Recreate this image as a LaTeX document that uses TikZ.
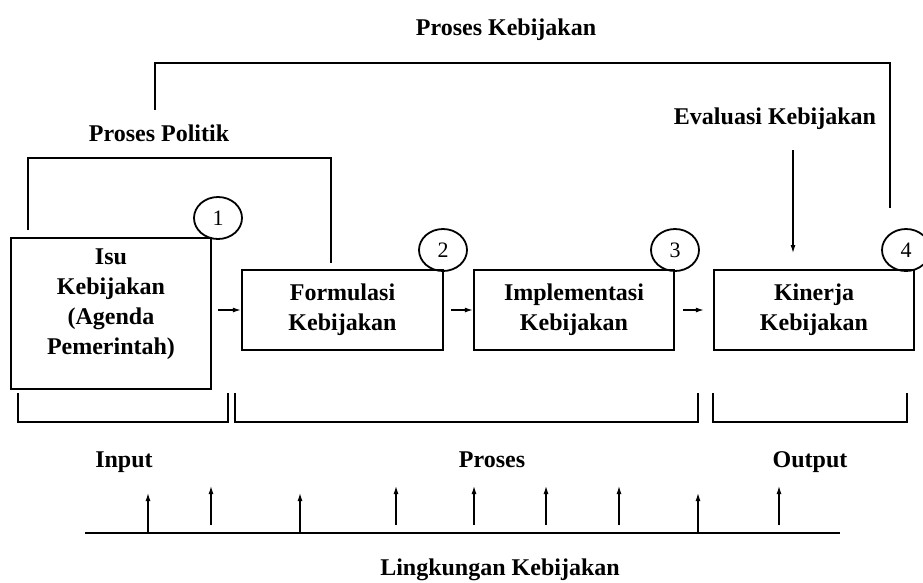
\documentclass[tikz,border=0pt]{standalone}
\usepackage{fontspec}
\setmainfont{Liberation Serif}
\usetikzlibrary{arrows.meta,shapes.geometric}
\tikzset{
  stagebox/.style={draw, line width=2.4pt, rectangle, inner sep=0pt},
  lbl/.style={font=\fontsize{24}{30}\selectfont\bfseries, align=center, inner sep=0pt},
  num/.style={draw, ellipse, line width=1.8pt, minimum width=48pt, minimum height=42pt, inner sep=0pt, font=\fontsize{22}{24}\selectfont},
  brk/.style={line width=1.8pt},
  arr/.style={line width=1.2pt, -{Latex[length=8pt,width=5pt]}},
}
\begin{document}
\begin{tikzpicture}[x=1pt,y=-1pt]
\useasboundingbox[fill=white] (0,0) rectangle (923,582);

% boxes
\node[stagebox, minimum width=200pt, minimum height=151pt] (b1) at (111,313.5) {};
\node[lbl] (t1) at (111,304) {Isu\\Kebijakan\\(Agenda\\Pemerintah)};
\node[stagebox, minimum width=201pt, minimum height=80pt, lbl] (b2) at (342.5,310) {Formulasi\\Kebijakan};
\node[stagebox, minimum width=200pt, minimum height=80pt, lbl] (b3) at (574,310) {Implementasi\\Kebijakan};
\node[stagebox, minimum width=200pt, minimum height=80pt, lbl] (b4) at (814,310) {Kinerja\\Kebijakan};

% numbered circles
\node[num] (n1) at (218,218) {1};
\node[num] (n2) at (443,250) {2};
\node[num] (n3) at (675,250) {3};
\node[num] (n4) at (906,250) {4};

% arrows between boxes
\coordinate (a1) at (218,310);
\coordinate (a2) at (451,310);
\coordinate (a3) at (683,310);
\draw[arr] (a1) -- (b2.west);
\draw[arr] (a2) -- (b3.west);
\draw[arr, shorten >=9pt] (a3) -- (b4.west);

% top labels
\node[lbl, anchor=base] (pk) at (506,35) {Proses Kebijakan};
\node[lbl, anchor=base] (pp) at (159,141) {Proses Politik};
\node[lbl, anchor=base] (ek) at (775,124) {Evaluasi Kebijakan};

% Proses Kebijakan bracket
\coordinate (pkL) at (155,110);
\coordinate (pkT) at (890,63);
\coordinate (pkR) at (890,208);
\draw[brk] (pkL) |- (pkT) -- (pkR);

% Proses Politik bracket
\coordinate (ppL) at (28,230);
\coordinate (ppT) at (331,158);
\coordinate (ppR) at (331,263);
\draw[brk] (ppL) |- (ppT) -- (ppR);

% Evaluasi arrow
\coordinate (ev1) at (793,150);
\coordinate (ev2) at (793,253);
\draw[arr] (ev1) -- (ev2);

% bottom brackets
\coordinate (q1a) at (18,393);  \coordinate (q1b) at (228,393);
\coordinate (q2a) at (235,393); \coordinate (q2b) at (698,393);
\coordinate (q3a) at (713,393); \coordinate (q3b) at (907,393);
\draw[brk] (q1a) -- ++(0,29) -| (q1b);
\draw[brk] (q2a) -- ++(0,29) -| (q2b);
\draw[brk] (q3a) -- ++(0,29) -| (q3b);

% Input / Proses / Output
\node[lbl, anchor=base] (in) at (124,467) {Input};
\node[lbl, anchor=base] (pr) at (492,467) {Proses};
\node[lbl, anchor=base] (out) at (810,467) {Output};

% environment line and arrows
\coordinate (envL) at (85,533);
\coordinate (envR) at (840,533);
\draw[line width=2.4pt] (envL) -- (envR);
\foreach \x/\yb/\yt in {148/533/493, 211/525/486, 300/533/493, 396/525/486, 474/525/486, 546/525/486, 619/525/486, 698/533/493, 779/525/486}{
  \coordinate (ua) at (\x,\yb);
  \coordinate (ub) at (\x,\yt);
  \draw[arr] (ua) -- (ub);
}
\node[lbl, anchor=base] (lk) at (500,575) {Lingkungan Kebijakan};
\end{tikzpicture}
\end{document}
